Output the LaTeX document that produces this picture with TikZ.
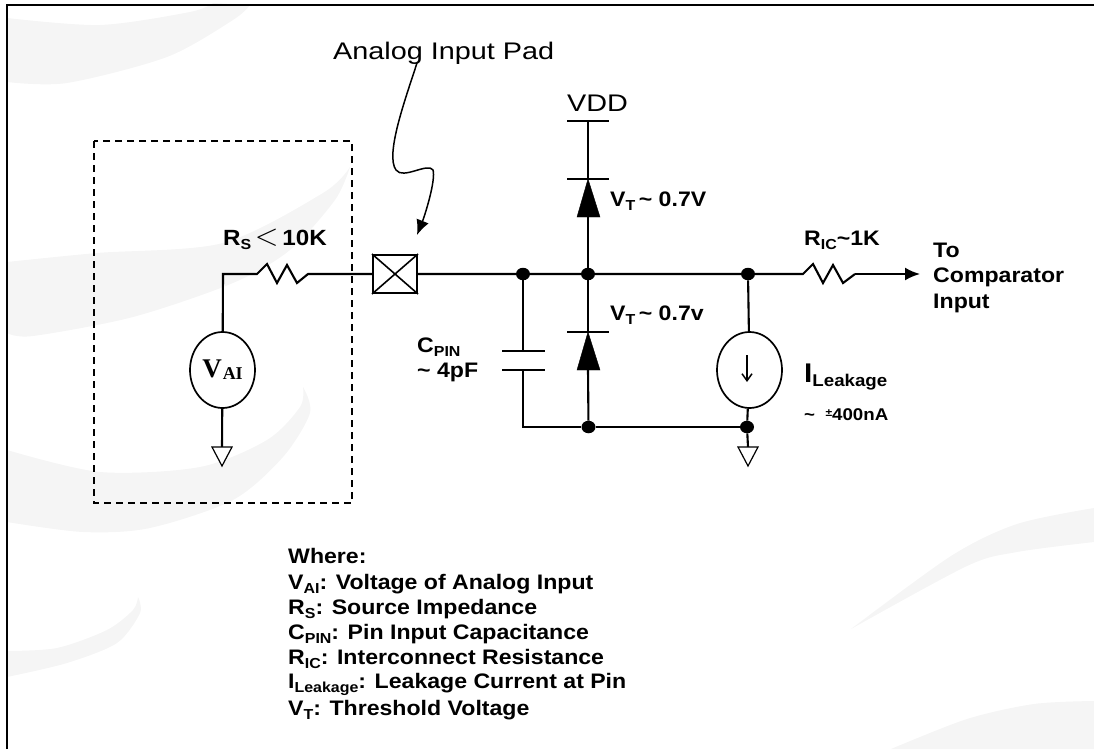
\documentclass[tikz,border=0pt]{standalone}
\usepackage{fontspec}
\setmainfont{Liberation Sans}
\newfontfamily\serifbf{Liberation Serif}
\newfontfamily\widesans[FakeStretch=1.1]{Liberation Sans}
\usetikzlibrary{arrows.meta,positioning,shapes.geometric}
\tikzset{
  wire/.style={line width=2.1pt, draw=black},
  thinw/.style={line width=1.6pt, draw=black},
  jdot/.style={ellipse, fill=black, inner sep=0pt, minimum width=14pt, minimum height=12.5pt},
  padbox/.style={rectangle, draw=black, line width=2pt, fill=white, inner sep=0pt, minimum width=44pt, minimum height=38pt},
  srcv/.style={ellipse, draw=black, line width=1.7pt, fill=white, inner sep=0pt, minimum width=65pt, minimum height=76pt},
  gnd/.style={draw=black, line width=1.2pt, fill=white},
  dio/.style={fill=black, draw=black},
  txt/.style={inner sep=0pt, anchor=base west, font=\widesans\fontsize{21}{25}\selectfont\bfseries},
  big/.style={inner sep=0pt, anchor=base west, font=\fontsize{24}{26}\selectfont},
  wmark/.style={fill=black!4, draw=none},
  arrowhd/.style={-{Latex[length=15pt,width=13pt]}}
}
\newcommand{\sbs}[1]{\raisebox{-.2em}{\fontsize{14.5}{14}\selectfont #1}}
\begin{document}
\begin{tikzpicture}[x=1pt,y=-1pt]
  \useasboundingbox (0,0) rectangle (1094,749);
  % watermark
  \fill[wmark] plot[smooth] coordinates {(7,18) (100,25) (190,12) (213,3)} -- (250,5) -- plot[smooth] coordinates {(250,5) (233,20) (167,57) (67,83) (7,82)} -- cycle;
  \fill[wmark] plot[smooth] coordinates {(7,262) (97,253) (223,243) (323,193) (350,167)} -- plot[smooth] coordinates {(350,167) (335,200) (290,250) (233,283) (133,317) (33,336) (7,333)} -- cycle;
  \fill[wmark] plot[smooth] coordinates {(7,450) (100,472) (200,467) (267,440) (300,407) (303,387)} -- plot[smooth] coordinates {(303,387) (310,413) (283,457) (233,500) (150,528) (83,532) (7,522)} -- cycle;
  \fill[wmark] plot[smooth] coordinates {(7,651) (57,648) (107,630) (133,610) (138,597)} -- plot[smooth] coordinates {(138,597) (140,613) (117,643) (67,663) (7,677)} -- cycle;
  \fill[wmark] plot[smooth] coordinates {(851,629) (951,556) (1017,524) (1094,508)} -- (1094,542) -- plot[smooth] coordinates {(1094,542) (1017,552) (967,566) (851,629)} -- cycle;
  \fill[wmark] plot[smooth] coordinates {(891,749) (967,719) (1034,704) (1094,701)} -- (1094,749) -- cycle;
  % frame
  \draw[line width=2pt] (6.5,749) -- (6.5,5) -- (1094,5);
  % dashed source box
  \draw[line width=1.5pt, dash pattern=on 7pt off 5pt] (94,141) rectangle (352,503);
  % nodes
  \node[padbox] (pad) at (395,274) {};
  \node[srcv] (vai) at (222.5,370) {\serifbf\bfseries\fontsize{27}{27}\selectfont V\raisebox{-.08em}{\kern1pt\fontsize{18}{18}\selectfont AI}};
  \node[srcv] (ileak) at (749.5,370) {};
  \node[jdot] (j1) at (523,274) {};
  \node[jdot] (j2) at (588,274) {};
  \node[jdot] (j3) at (748,274) {};
  \node[jdot] (j4) at (588.5,427) {};
  \node[jdot] (j5) at (747,427) {};
  \coordinate (cnr) at (223,274);
  \coordinate (r1a) at (257,274);
  \coordinate (r1b) at (308,274);
  \coordinate (r2a) at (803,274);
  \coordinate (r2b) at (855,274);
  \coordinate (outp) at (920,274);
  \coordinate (cap1) at (523,351);
  \coordinate (cap2) at (523,370);
  \coordinate (cnb) at (523,427);
  \coordinate (vdd) at (588,121);
  \coordinate (d1a) at (588,179);
  \coordinate (d1b) at (588,217);
  \coordinate (d2a) at (588,332);
  \coordinate (d2b) at (588,370);
  \coordinate (g1) at (222,447);
  \coordinate (g2) at (748,447);
  % labels
  \node[big] (lpad) at (333,60) {\addfontfeature{FakeStretch=1.2}Analog Input Pad};
  \node[big] (lvdd) at (567,112) {\addfontfeature{FakeStretch=1.2}VDD};
  \node[txt] (lrs) at (223,245) {\fontsize{22}{22}\selectfont R\sbs{S}\,\scalebox{1.5}{\normalfont$<$}\,10K};
  \node[txt] (lv1) at (610,206) {V\sbs{T}\,\textasciitilde\ 0.7V};
  \node[txt] (lv2) at (610,320) {V\sbs{T}\,\textasciitilde\ 0.7v};
  \node[txt] (lric) at (804,245) {R\sbs{IC}\textasciitilde1K};
  \node[txt] (lto) at (933,257) {To};
  \node[txt] (lcmp) at (933,282) {Comparator};
  \node[txt] (linp) at (933,308) {Input};
  \node[txt] (lcp) at (417,352) {C\sbs{PIN}};
  \node[txt] (lcq) at (417,377) {\textasciitilde\ 4pF};
  \node[txt] (lil) at (804,382) {\fontsize{27}{27}\selectfont I\raisebox{-.15em}{\fontsize{17}{17}\selectfont Leakage}};
  \node[txt] (lna) at (804,420) {\fontsize{17}{17}\selectfont\textasciitilde\ \ \raisebox{.2em}{\fontsize{11}{11}\selectfont ±}400nA};
  \node[txt] (lwh) at (288,563) {Where:};
  \node[txt] (lk1) at (288,589) {V\sbs{AI}: Voltage of Analog Input};
  \node[txt] (lk2) at (288,614) {R\sbs{S}: Source Impedance};
  \node[txt] (lk3) at (288,639) {C\sbs{PIN}: Pin Input Capacitance};
  \node[txt] (lk4) at (288,664) {R\sbs{IC}: Interconnect Resistance};
  \node[txt] (lk5) at (288,688) {I\sbs{Leakage}: Leakage Current at Pin};
  \node[txt] (lk6) at (288,715) {V\sbs{T}: Threshold Voltage};
  % wires
  \draw[wire] (vai) -- (cnr) -- (r1a) -- ++(10,-10) -- ++(10,19) -- ++(10,-18) -- ++(10,18) -- (r1b) -- (pad);
  \draw[wire] (pad) -- (j1) -- (j2) -- (j3) -- (r2a) -- ++(10,-10) -- ++(10,19) -- ++(10,-18) -- ++(10,18) -- (r2b);
  \draw[wire, arrowhd] (r2b) -- (outp);
  \draw[thinw] (pad.north west) -- (pad.south east);
  \draw[thinw] (pad.north east) -- (pad.south west);
  \draw[wire] (j1) -- (cap1);
  \draw[wire] (cap2) -- (cnb) -- (j4) -- (j5);
  \draw[thinw] (502,351) -- (545,351);
  \draw[thinw] (502,370) -- (545,370);
  \draw[thinw] (vdd) -- (d1a);
  \draw[thinw] (567,121) -- (609,121);
  \draw[thinw] (567,179) -- (609,179);
  \draw[dio] (d1a) -- (577,217) -- (600,217) -- cycle;
  \draw[wire] (d1b) -- (j2) -- (d2a);
  \draw[thinw] (567,332) -- (609,332);
  \draw[dio] (d2a) -- (577,370) -- (600,370) -- cycle;
  \draw[wire] (d2b) -- (j4);
  \draw[wire] (j3) -- (ileak);
  \draw[wire] (ileak) -- (j5) -- (g2);
  \draw[wire] (vai) -- (g1);
  \draw[gnd] (g1) ++(-10,0) -- ++(20,0) -- ++(-10,19) -- cycle;
  \draw[gnd] (g2) ++(-10,0) -- ++(20,0) -- ++(-10,19) -- cycle;
  \draw[line width=1.5pt, -{Straight Barb[length=7pt,width=10pt]}] (747,355) -- (747,382);
  % leader
  \draw[line width=1.5pt, arrowhd] (417,63) .. controls (405,100) and (385,155) .. (396,170) .. controls (403,180) and (428,162) .. (433,170) .. controls (436,180) and (425,215) .. (417,235);
\end{tikzpicture}
\end{document}
